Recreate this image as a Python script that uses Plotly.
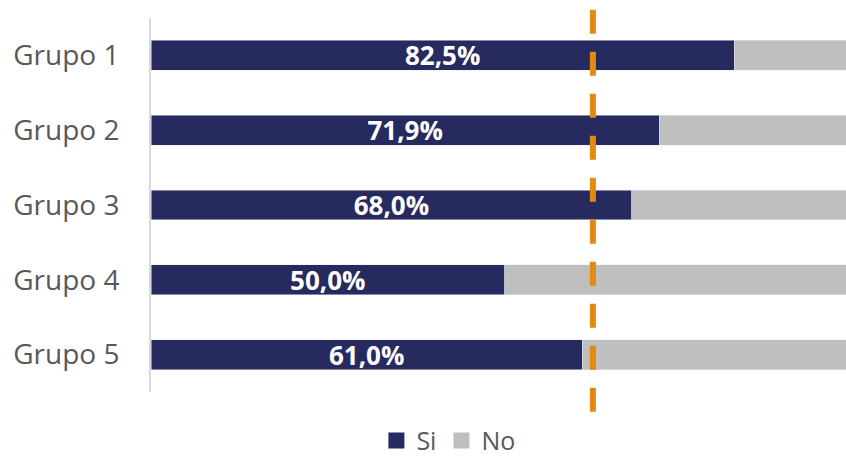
import plotly.graph_objects as go

categories = ["Grupo 1", "Grupo 2", "Grupo 3", "Grupo 4", "Grupo 5"]
si_values = [82.5, 71.9, 68.0, 50.0, 61.0]
no_values = [17.5, 28.1, 32.0, 50.0, 39.0]
series_names = ["Si", "No"]
reference_value = 62.5

NAVY = "#262A5F"
GRAY = "#BFBFBF"
ORANGE = "#E38B0F"
FONT = "Open Sans"

fig = go.Figure()
fig.add_trace(go.Bar(
    y=categories, x=si_values, orientation="h", name=series_names[0],
    marker=dict(color=NAVY), showlegend=False,
    texttemplate="%{x:.1f}%", textposition="inside", insidetextanchor="middle",
    constraintext="none",
    textfont=dict(color="white", size=26, family=FONT, weight="bold"),
))
fig.add_trace(go.Bar(
    y=categories, x=no_values, orientation="h", name=series_names[1],
    marker=dict(color=GRAY), hoverinfo="x", showlegend=False,
))
# legend entries with larger square swatches
for name, color in zip(series_names, [NAVY, GRAY]):
    fig.add_trace(go.Scatter(
        x=[None], y=[None], mode="markers", name=name,
        marker=dict(symbol="square", size=17, color=color),
    ))

fig.add_shape(type="line", xref="x", yref="paper",
              x0=reference_value, x1=reference_value, y0=-0.053, y1=1.032,
              line=dict(color=ORANGE, width=6, dash="24px,18px"), layer="above")

fig.update_layout(
    width=846, height=459,
    barmode="stack", bargap=0.6,
    separators=",.",
    plot_bgcolor="white", paper_bgcolor="white",
    margin=dict(l=151, r=0, t=18, b=67),
    font=dict(family=FONT, color="#595959", size=24),
    legend=dict(orientation="h", xref="container", x=0.53, xanchor="center",
                yref="container", y=0.04, yanchor="middle",
                font=dict(size=25, color="#595959"), traceorder="normal",
                itemwidth=30),
    showlegend=True,
)
fig.update_xaxes(range=[0, 98.3], visible=False, showgrid=False)
fig.update_yaxes(autorange="reversed", showline=True, linecolor="#D9D9D9", linewidth=2,
                 ticks="", ticklabelstandoff=24, tickfont=dict(size=28, color="#595959"),
                 showgrid=False)

fig.write_html("out.html", config={"displayModeBar": False},
               post_script="document.body.style.margin='0';document.body.style.overflow='hidden';")
